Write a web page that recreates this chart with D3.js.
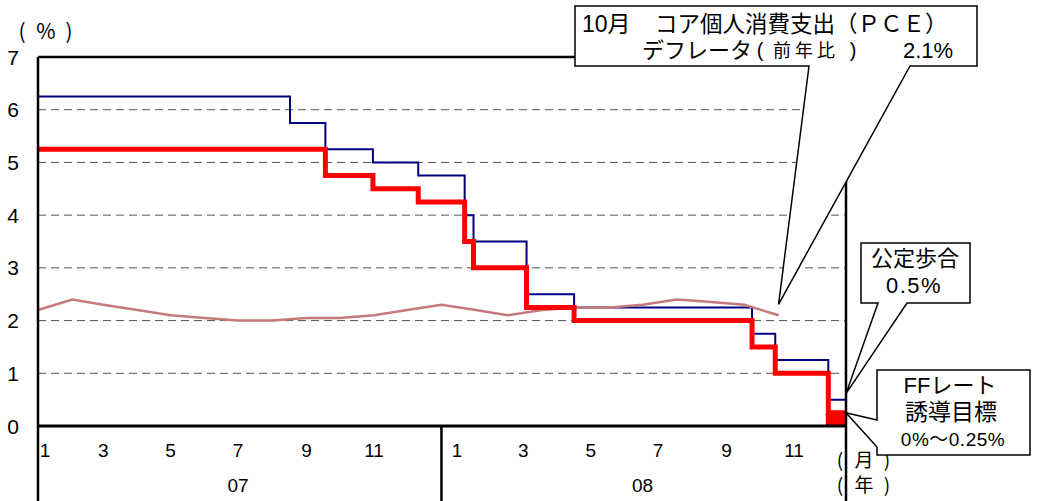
<!DOCTYPE html>
<html>
<head>
<meta charset="utf-8">
<script src="https://cdn.jsdelivr.net/npm/d3@7"></script>
<style>
  body { margin: 0; background: #fff; }
  svg { font-family: "Liberation Sans", "Noto Sans CJK JP", sans-serif; }
  .jp { font-family: "Noto Sans CJK JP", "Liberation Sans", sans-serif; }
</style>
</head>
<body>
<svg width="1043" height="501"></svg>
<script>
var WIDTH = 1043
var HEIGHT = 501

// 公定歩合 (primary credit rate)
var discountDates = ["2007-01-01", "2007-08-17", "2007-09-18", "2007-10-31", "2007-12-11", "2008-01-22",
    "2008-01-30", "2008-03-18", "2008-04-30", "2008-10-08", "2008-10-29", "2008-12-16"];
var discountRates = [6.25, 5.75, 5.25, 5.00, 4.75, 4.00, 3.50, 2.50, 2.25, 1.75, 1.25, 0.50];

// FFレート誘導目標 (last one is the 0-0.25 range)
var ffDates = ["2007-01-01", "2007-09-18", "2007-10-31", "2007-12-11", "2008-01-22", "2008-01-30",
    "2008-03-18", "2008-04-30", "2008-10-08", "2008-10-29", "2008-12-16"];
var ffRates = [5.25, 4.75, 4.50, 4.25, 3.50, 3.00, 2.25, 2.00, 1.50, 1.00, 0.25];
var ffRangeLow = 0;

// コアPCEデフレータ前年比, plotted at month end (Dec 06 .. Oct 08)
var pceDates = ["2007-01-01", "2007-02-01", "2007-03-01", "2007-04-01", "2007-05-01", "2007-06-01",
    "2007-07-01", "2007-08-01", "2007-09-01", "2007-10-01", "2007-11-01", "2007-12-01",
    "2008-01-01", "2008-02-01", "2008-03-01", "2008-04-01", "2008-05-01", "2008-06-01",
    "2008-07-01", "2008-08-01", "2008-09-01", "2008-10-01", "2008-11-01"];
var pceValues = [2.2, 2.4, 2.3, 2.2, 2.1, 2.05, 2.0, 2.0, 2.05, 2.05, 2.1, 2.2,
    2.3, 2.2, 2.1, 2.2, 2.25, 2.25, 2.3, 2.4, 2.35, 2.3, 2.1];

var yTicks = [0, 1, 2, 3, 4, 5, 6, 7];
var monthTicks07 = ["2007-01-01", "2007-03-01", "2007-05-01", "2007-07-01", "2007-09-01", "2007-11-01"];
var monthTicks08 = ["2008-01-15", "2008-03-15", "2008-05-15", "2008-07-15", "2008-09-15", "2008-11-15"];
var yearLabels = ["07", "08"];
var yearLabelDates = ["2007-07-01", "2008-07-01"];
var yearBreaks = ["2008-01-01"];

var parse = d3.utcParse("%Y-%m-%d");

var svg = d3.select("svg");

var x = d3.scaleUtc()
    .domain([parse("2007-01-01"), parse("2009-01-01")])
    .range([38, 846]);

var y = d3.scaleLinear()
    .domain([0, 7])
    .range([426, 57]);

var xEnd = x.domain()[1];
var bottom = HEIGHT;

// dashed grid
svg.append("g")
    .selectAll("line")
    .data(yTicks.filter(function (d) { return d > 0 && d < 7; }))
    .join("line")
    .attr("x1", x.range()[0]).attr("x2", x.range()[1])
    .attr("y1", function (d) { return y(d); })
    .attr("y2", function (d) { return y(d); })
    .attr("stroke", "#555")
    .attr("stroke-width", 1)
    .attr("stroke-dasharray", "8,5");

function stepPoints(dates, vals) {
    var pts = dates.map(function (d, i) { return [parse(d), vals[i]]; });
    pts.push([xEnd, vals[vals.length - 1]]);
    return pts;
}

var stepLine = d3.line()
    .x(function (d) { return x(d[0]); })
    .y(function (d) { return y(d[1]); })
    .curve(d3.curveStepAfter);

// discount rate
svg.append("path")
    .datum(stepPoints(discountDates, discountRates))
    .attr("d", stepLine)
    .attr("fill", "none")
    .attr("stroke", "#000080")
    .attr("stroke-width", 2);

// core PCE
svg.append("path")
    .datum(pceDates.map(function (d, i) { return [parse(d), pceValues[i]]; }))
    .attr("d", d3.line()
        .x(function (d) { return x(d[0]); })
        .y(function (d) { return y(d[1]); }))
    .attr("fill", "none")
    .attr("stroke", "#c47a7a")
    .attr("stroke-width", 2.5);

// FF target
svg.append("path")
    .datum(stepPoints(ffDates, ffRates))
    .attr("d", stepLine)
    .attr("fill", "none")
    .attr("stroke", "#ff0000")
    .attr("stroke-width", 5)
    .attr("stroke-linejoin", "miter");

var lastFF = parse(ffDates[ffDates.length - 1]);
svg.append("rect")
    .attr("x", x(lastFF) - 2.5)
    .attr("y", y(ffRates[ffRates.length - 1]))
    .attr("width", x(xEnd) - x(lastFF) + 2.5)
    .attr("height", y(ffRangeLow) - y(ffRates[ffRates.length - 1]))
    .attr("fill", "#ff0000");

// frame
var frame = svg.append("g").attr("stroke", "#000").attr("fill", "none");
frame.append("line").attr("x1", 38).attr("x2", 38).attr("y1", y(7)).attr("y2", bottom).attr("stroke-width", 2.5);
frame.append("line").attr("x1", 38).attr("x2", x(xEnd)).attr("y1", y(7)).attr("y2", y(7)).attr("stroke-width", 2.5);
frame.append("line").attr("x1", x(xEnd)).attr("x2", x(xEnd)).attr("y1", y(7)).attr("y2", bottom).attr("stroke-width", 2.5);
frame.append("line").attr("x1", 38).attr("x2", x(xEnd)).attr("y1", y(0)).attr("y2", y(0)).attr("stroke-width", 3);
yearBreaks.forEach(function (d) {
    frame.append("line").attr("x1", x(parse(d))).attr("x2", x(parse(d)))
        .attr("y1", y(0)).attr("y2", bottom).attr("stroke-width", 2.5);
});

// y labels
svg.append("g")
    .selectAll("text")
    .data(yTicks)
    .join("text")
    .attr("x", 13)
    .attr("y", function (d) { return y(d); })
    .attr("dy", "0.36em")
    .attr("text-anchor", "middle")
    .style("font-size", "21px")
    .text(function (d) { return d; });

// spaced bracket labels: "(", word, ")"
function bracketLabel(cx, cy, word, size) {
    var t = svg.append("text").attr("class", "jp").attr("y", cy).attr("dy", "0.36em")
        .attr("text-anchor", "middle").style("font-size", size + "px");
    t.append("tspan").attr("x", cx - 24).text("(");
    t.append("tspan").attr("x", cx).text(word);
    t.append("tspan").attr("x", cx + 23).text(")");
}
bracketLabel(46, 31, "%", 21);

// month labels
var monthTicks = monthTicks07.concat(monthTicks08);
svg.append("g")
    .selectAll("text")
    .data(monthTicks)
    .join("text")
    .attr("x", function (d) { return Math.max(x(parse(d)), 45); })
    .attr("y", 450)
    .attr("dy", "0.36em")
    .attr("text-anchor", "middle")
    .style("font-size", "19px")
    .text(function (d) { return +d.slice(5, 7); });

svg.append("g")
    .selectAll("text")
    .data(yearLabels)
    .join("text")
    .attr("x", function (d, i) { return x(parse(yearLabelDates[i])); })
    .attr("y", 485)
    .attr("dy", "0.36em")
    .attr("text-anchor", "middle")
    .style("font-size", "19px")
    .text(function (d) { return d; });

bracketLabel(864, 460, "月", 19);
bracketLabel(864, 485, "年", 19);

// callouts
function calloutBottom(x0, y0, x1, y1, b1, b2, apex) {
    return "M" + x0 + "," + y0 + "H" + x1 + "V" + y1 + "H" + b2 + "L" + apex[0] + "," + apex[1] +
        "L" + b1 + "," + y1 + "H" + x0 + "Z";
}
function calloutLeft(x0, y0, x1, y1, b1, b2, apex) {
    return "M" + x0 + "," + y0 + "H" + x1 + "V" + y1 + "H" + x0 + "V" + b2 + "L" + apex[0] + "," + apex[1] +
        "L" + x0 + "," + b1 + "Z";
}

var lastPce = pceDates.length - 1;
var apex1 = [x(parse(pceDates[lastPce])), y(pceValues[lastPce]) - 11];
var apex2 = [x(xEnd), y(discountRates[discountRates.length - 1]) - 6];
var apex3 = [x(xEnd), y(ffRates[ffRates.length - 1])];

var callouts = svg.append("g");
callouts.append("path")
    .attr("d", calloutBottom(575, 6, 977, 66, 809, 910, apex1))
    .attr("fill", "#fff").attr("stroke", "#000").attr("stroke-width", 1.5);
callouts.append("path")
    .attr("d", calloutBottom(861, 243, 970, 303, 878, 907, apex2))
    .attr("fill", "#fff").attr("stroke", "#000").attr("stroke-width", 1.5);
callouts.append("path")
    .attr("d", calloutLeft(877, 370, 1030, 455, 420, 447, apex3))
    .attr("fill", "#fff").attr("stroke", "#000").attr("stroke-width", 1.5);

var t1 = callouts.append("text").attr("x", 582).attr("y", 24).attr("dy", "0.36em").style("font-size", "23px");
t1.append("tspan").text("10月");
t1.append("tspan").attr("class", "jp").attr("x", 655).style("font-size", "22.5px").text("コア個人消費支出（ＰＣＥ）");

// second line: デフレータ（前年比） 2.1%
callouts.append("text").attr("class", "jp").attr("x", 642).attr("y", 50).attr("dy", "0.36em")
    .style("font-size", "22px").text("デフレータ");
callouts.append("text").attr("x", 760).attr("y", 50).attr("dy", "0.36em")
    .attr("text-anchor", "middle").style("font-size", "20px").text("(");
callouts.append("text").attr("class", "jp").attr("x", 806).attr("y", 51).attr("dy", "0.36em")
    .attr("text-anchor", "middle").style("font-size", "18px").style("letter-spacing", "4px").text("前年比");
callouts.append("text").attr("x", 853).attr("y", 50).attr("dy", "0.36em")
    .attr("text-anchor", "middle").style("font-size", "20px").text(")");
callouts.append("text").attr("x", 903).attr("y", 50).attr("dy", "0.36em")
    .style("font-size", "22px").text("2.1%");

callouts.append("text").attr("class", "jp").attr("x", 915).attr("y", 258).attr("dy", "0.36em")
    .attr("text-anchor", "middle").style("font-size", "22px").text("公定歩合");
callouts.append("text").attr("x", 914).attr("y", 285).attr("dy", "0.36em")
    .attr("text-anchor", "middle").style("font-size", "22px").style("letter-spacing", "1.5px").text("0.5%");

callouts.append("text").attr("x", 950).attr("y", 385).attr("dy", "0.36em")
    .attr("text-anchor", "middle").style("font-size", "22px").text("FFレート");
callouts.append("text").attr("class", "jp").attr("x", 951).attr("y", 412).attr("dy", "0.36em")
    .attr("text-anchor", "middle").style("font-size", "23px").text("誘導目標");
callouts.append("text").attr("x", 953).attr("y", 439).attr("dy", "0.36em")
    .attr("text-anchor", "middle").style("font-size", "19px").style("letter-spacing", "0.5px").text("0%～0.25%");
</script>
</body>
</html>
